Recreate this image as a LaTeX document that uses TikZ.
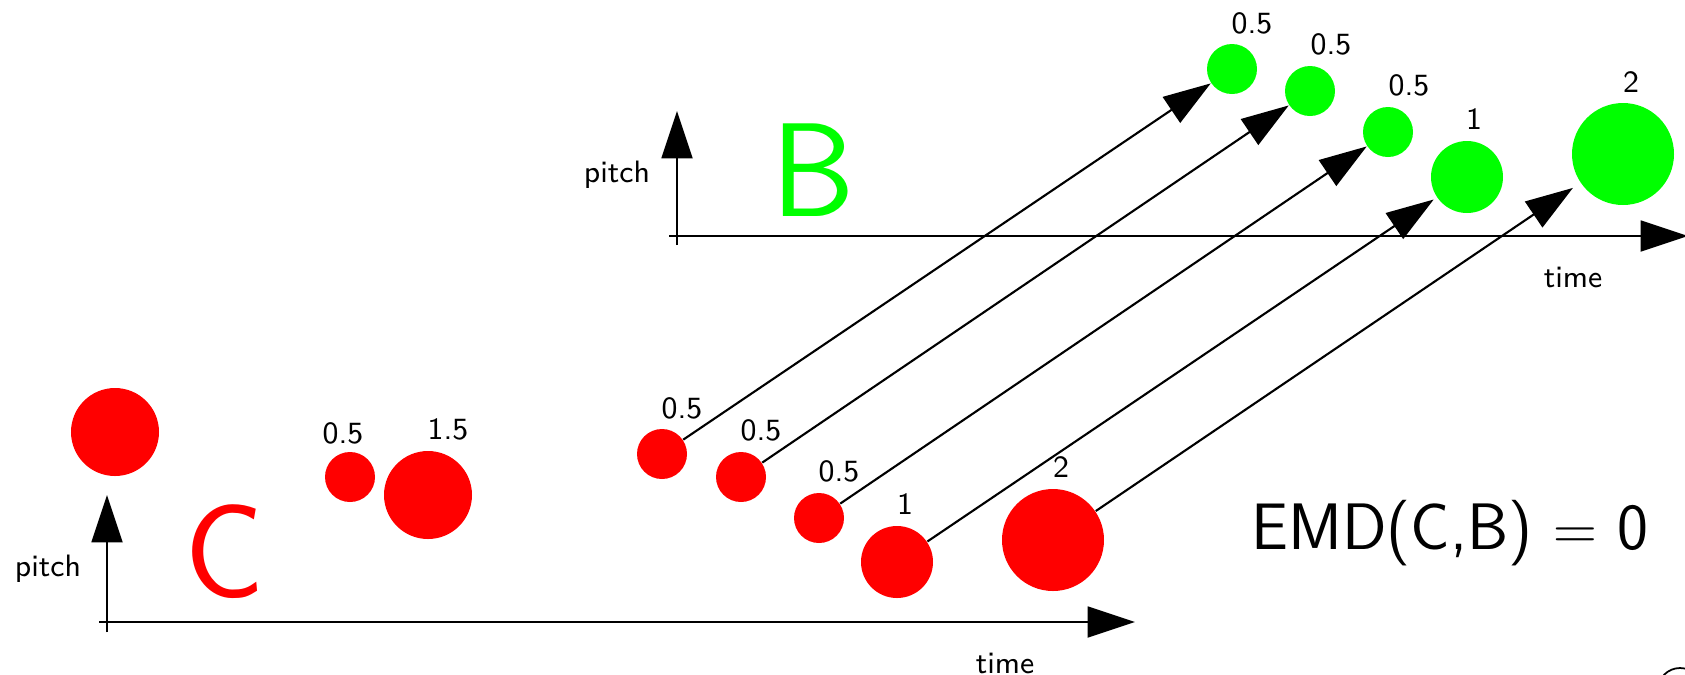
\documentclass[tikz,border=0pt]{standalone}
\usepackage{xcolor}
\usepackage{tikz}
\usetikzlibrary{shapes,arrows.meta,positioning,calc}
\definecolor{notered}{HTML}{FF0000}
\definecolor{notegreen}{HTML}{00FF00}
\tikzstyle{axisarrow} = [-{Triangle[length=13.5pt,width=8.8pt]}, line width=0.6pt, black]
\tikzstyle{flowarrow} = [-{Triangle[length=13.5pt,width=8.8pt]}, line width=0.6pt, black]

\begin{document}
\begin{tikzpicture}[
  rednote/.style={circle, fill=notered, inner sep=0pt, minimum size=#1},
  greennote/.style={circle, fill=notegreen, inner sep=0pt, minimum size=#1},
  weight/.style={font=\sffamily\fontsize{8.8}{10}\selectfont, inner sep=0pt},
  axislabel/.style={font=\sffamily\fontsize{8.8}{10}\selectfont, inner sep=0pt},
  setname/.style={font=\sffamily\fontsize{38}{40}\selectfont, inner sep=0pt}]

\useasboundingbox (0,0) rectangle (16.85,6.74);

% axes of C
\coordinate (corigin) at (1.07,0.52);
\draw[line width=0.6pt] (1.07,0.42) coordinate (cbottom) -- (corigin);
\draw[axisarrow] (cbottom) -- (1.07,1.79) coordinate (cpitch);
\draw[axisarrow] (0.99,0.52) coordinate (cleft) -- (11.35,0.52) coordinate (ctime);
\node[axislabel] (cpitchlabel) at (0.48,1.05) {pitch};
\node[axislabel] (ctimelabel) at (10.05,0.11) {time};
\node[setname, text=notered] (cname) at (2.25,1.22) {C};

% axes of B
\draw[axisarrow] (6.77,4.29) coordinate (bbottom) -- (6.77,5.63) coordinate (bpitch);
\draw[axisarrow] (6.69,4.38) coordinate (bleft) -- (16.88,4.38) coordinate (btime);
\node[axislabel] (bpitchlabel) at (6.17,4.99) {pitch};
\node[axislabel] (btimelabel) at (15.73,3.97) {time};
\node[setname, text=notegreen] (bname) at (8.13,5.04) {B};

% notes of C
\node[rednote=0.88cm] (r0) at (1.15,2.42) {};
\node[rednote=0.50cm] (r1) at (3.50,1.97) {};
\node[rednote=0.88cm] (r2) at (4.28,1.79) {};
\node[rednote=0.50cm] (ra) at (6.62,2.20) {};
\node[rednote=0.50cm] (rb) at (7.41,1.97) {};
\node[rednote=0.50cm] (rc) at (8.19,1.56) {};
\node[rednote=0.72cm] (rd) at (8.97,1.12) {};
\node[rednote=1.02cm] (re) at (10.53,1.34) {};

\node[weight] (w1) at (3.43,2.41) {0.5};
\node[weight] (w2) at (4.48,2.45) {1.5};
\node[weight] (wa) at (6.82,2.66) {0.5};
\node[weight] (wb) at (7.61,2.44) {0.5};
\node[weight] (wc) at (8.39,2.03) {0.5};
\node[weight] (wd) at (9.05,1.70) {1};
\node[weight] (we) at (10.61,2.07) {2};

% notes of B
\node[greennote=0.50cm] (ga) at (12.32,6.05) {};
\node[greennote=0.50cm] (gb) at (13.10,5.83) {};
\node[greennote=0.50cm] (gc) at (13.88,5.42) {};
\node[greennote=0.72cm] (gd) at (14.67,4.97) {};
\node[greennote=1.02cm] (ge) at (16.23,5.20) {};

\node[weight] (vga) at (12.52,6.51) {0.5};
\node[weight] (vgb) at (13.31,6.30) {0.5};
\node[weight] (vgc) at (14.09,5.89) {0.5};
\node[weight] (vgd) at (14.74,5.55) {1};
\node[weight] (vge) at (16.31,5.92) {2};

% transport
\draw[flowarrow] (ra) -- (ga);
\draw[flowarrow] (rb) -- (gb);
\draw[flowarrow] (rc) -- (gc);
\draw[flowarrow, shorten >=1pt] (rd) -- (gd);
\draw[flowarrow, shorten >=2.5pt] (re) -- (ge);

\node[font=\sffamily\fontsize{18.7}{21}\selectfont, inner sep=0pt] (emd) at (14.50,1.41) {EMD(C,B) $=$ 0};

\coordinate (corner) at (16.80,-0.16);
\draw[line width=0.5pt] (corner) circle (0.22);
\end{tikzpicture}
\end{document}
